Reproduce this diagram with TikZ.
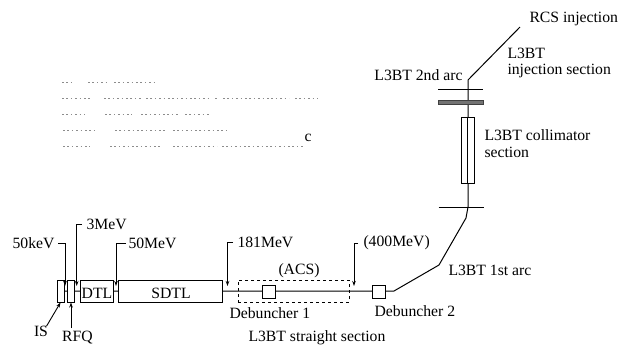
\documentclass[tikz,border=0pt]{standalone}
\usepackage{fontspec}
\setmainfont{Liberation Serif}
\usetikzlibrary{arrows.meta}
\tikzset{
  x=1pt,y=-1pt,
  every path/.style={line width=1pt,color=black},
  lbl/.style={inner sep=0pt,font=\fontsize{15.7}{17}\selectfont,text=black},
  elem/.style={draw=black,line width=1pt,fill=white,inner sep=0pt,minimum width=#1,minimum height=22pt},
  sq/.style={draw=black,line width=1pt,fill=white,inner sep=0pt,minimum width=13pt,minimum height=13pt},
  arr/.style={-{Stealth[length=5pt,width=3.5pt]},line width=0.9pt},
  faint/.style={line width=0.9pt,color=black!45,dash pattern=on 1.6pt off 2.8pt}
}
\begin{document}
\begin{tikzpicture}
\useasboundingbox (0,0) rectangle (625,346);
% beam line
\coordinate (b0) at (64,291);
\coordinate (arcA) at (394,291);
\coordinate (arcB) at (439,265);
\coordinate (arcC) at (466,218);
\coordinate (arcD) at (468,207);
\coordinate (inj0) at (468,80);
\coordinate (inj1) at (520,27);
\draw (b0) -- (arcA) -- (arcB) -- (arcC) -- (arcD) -- (inj0) -- (inj1);
% dashed ACS
\node[draw=black,dashed,line width=0.8pt,minimum width=111pt,minimum height=22pt,inner sep=0pt] (acs) at (293.5,291) {};
% elements
\node[elem=7pt] (is) at (60.5,291) {};
\node[elem=7.5pt] (rfq) at (71,291) {};
\node[elem=33.5pt] (dtl) at (97,291) {};
\node[elem=104.5pt] (sdtl) at (170.5,291) {};
\node[sq] (db1) at (268.5,291.5) {};
\node[sq] (db2) at (378.5,291.5) {};
\node[lbl] at (97,293) {DTL};
\node[lbl] at (171,293) {SDTL};
% upper section
\coordinate (t1a) at (438,89); \coordinate (t1b) at (483,89);
\coordinate (t2a) at (438.5,207); \coordinate (t2b) at (484,207);
\draw (t1a) -- (t1b);
\draw (t2a) -- (t2b);
\node[draw=black!75,fill=black!55,line width=0.8pt,minimum width=45pt,minimum height=4pt,inner sep=0pt] (bar) at (460.5,102.7) {};
\node[draw=black,fill=white,line width=1pt,minimum width=13pt,minimum height=66pt,inner sep=0pt] (coll) at (467.5,150) {};
\draw (coll.north) -- (coll.south);
% labels with arrows
\node[lbl,anchor=east] (k50) at (55,243) {50keV};
\node[lbl,anchor=west] (m3) at (86,224) {3MeV};
\node[lbl,anchor=west] (m50) at (128,243) {50MeV};
\node[lbl,anchor=west] (m181) at (237,242) {181MeV};
\node[lbl,anchor=west] (m400) at (363,243) {(400MeV)};
\coordinate (k50t) at (65,286);
\coordinate (m3t) at (76.7,286);
\coordinate (m50t) at (116,286);
\coordinate (m181t) at (227.5,286);
\coordinate (m400t) at (354,286);
\draw[arr] (k50.east)++(3,0) -| (k50t);
\draw[arr] (m3.west)++(-4,0) -| (m3t);
\draw[arr] (m50.west)++(-2,0) -| (m50t);
\draw[arr] (m181.west)++(-4,0) -| (m181t);
\draw[arr] (m400.west)++(-5,0) -| (m400t);
\node[lbl] (islbl) at (41,331) {IS};
\node[lbl] (rfqlbl) at (77.5,338) {RFQ};
\draw[arr] (islbl.north east)++(-2,1) -- (is.south);
\coordinate (rfqs) at (71,328);
\draw[arr] (rfqs) -- (rfq.south);
\node[lbl] at (299,271) {(ACS)};
\node[lbl,anchor=west] at (229,313) {Debuncher 1};
\node[lbl,anchor=west] at (374,311) {Debuncher 2};
\node[lbl,anchor=west] at (448,270) {L3BT 1st arc};
\node[lbl,anchor=west] at (248,338) {L3BT straight section};
\node[lbl,anchor=west] at (529,19) {RCS injection};
\node[lbl,anchor=west] at (507,53) {L3BT};
\node[lbl,anchor=west] at (507,71) {injection section};
\node[lbl,anchor=east] at (463,75) {L3BT 2nd arc};
\node[lbl,anchor=west] at (484,135) {L3BT collimator};
\node[lbl,anchor=west] at (484,152) {section};
\node[lbl] at (308,138) {c};
% faint remnants
\foreach \y/\segs in {82/{62/73,88/107,114/155},
  98/{62/92,104/142,146/210,215/218,223/289,295/318},
  114/{62/85,105/132,141/178,185/210},
  130/{63/94,115/167,173/227},
  146/{63/90,110/160,173/217,222/303}}{
  \foreach \a/\b in \segs { \draw[faint] (\a,\y) -- (\b,\y); }
}
\end{tikzpicture}
\end{document}
